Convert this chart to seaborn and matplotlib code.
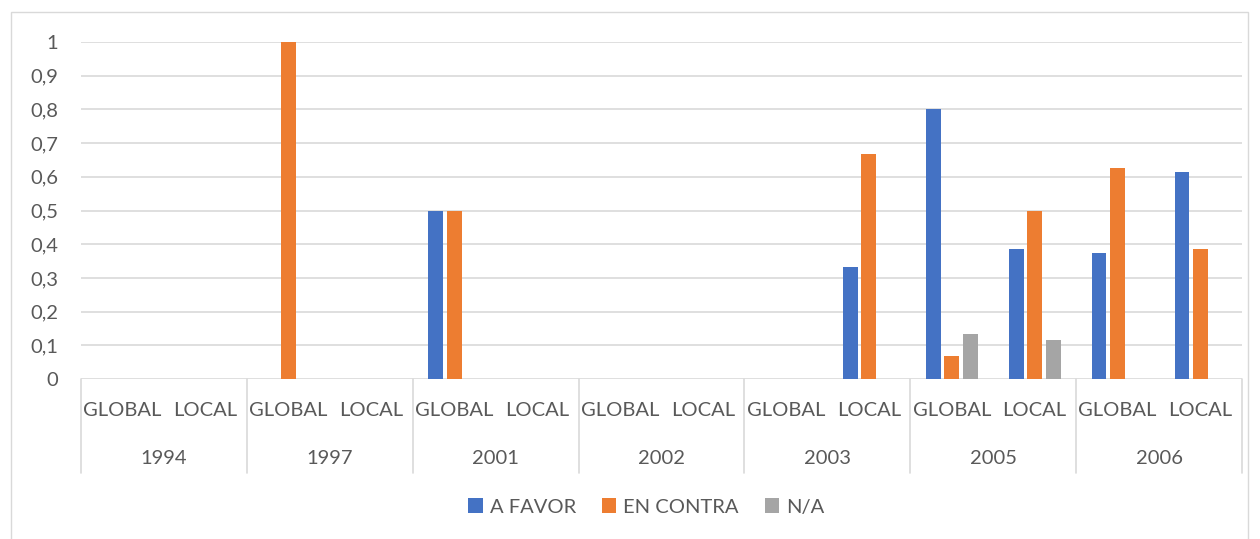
import matplotlib
matplotlib.use("Agg")
import matplotlib.pyplot as plt
from matplotlib.patches import Patch, Rectangle
from matplotlib.transforms import blended_transform_factory
import seaborn as sns
import pandas as pd

# Survey results by year and scope
years = ["1994", "1997", "2001", "2002", "2003", "2005", "2006"]
scopes = ["GLOBAL", "LOCAL"]
series = ["A FAVOR", "EN CONTRA", "N/A"]

a_favor   = [0, 0,   0, 0,   0.5, 0,   0, 0,   0, 0.333,   0.8, 0.385,   0.375, 0.615]
en_contra = [0, 0,   1, 0,   0.5, 0,   0, 0,   0, 0.667,   0.067, 0.5,   0.625, 0.385]
n_a       = [0, 0,   0, 0,   0,   0,   0, 0,   0, 0,       0.133, 0.115, 0,     0]

y_ticks = [0, 0.1, 0.2, 0.3, 0.4, 0.5, 0.6, 0.7, 0.8, 0.9, 1]
y_labels = ["0", "0,1", "0,2", "0,3", "0,4", "0,5", "0,6", "0,7", "0,8", "0,9", "1"]

colors = ["#4472C4", "#ED7D31", "#A5A5A5"]
text_color = "#595959"
grid_color = "#D9D9D9"

cats = [f"{y} {s}" for y in years for s in scopes]
rows = []
for name, vals in zip(series, [a_favor, en_contra, n_a]):
    for c, v in zip(cats, vals):
        rows.append({"cat": c, "serie": name, "valor": v})
df = pd.DataFrame(rows)

sns.set_theme(style="white")
plt.rcParams["font.family"] = ["Lato", "DejaVu Sans"]

W, H = 1260, 539
fig = plt.figure(figsize=(W / 100, H / 100), dpi=100)

# outer chart frame
fig.patches.append(Rectangle((11 / W, 0 - 0.02), (1248 - 11) / W, 1 - 12 / H + 0.02,
                             transform=fig.transFigure, fill=False,
                             edgecolor=grid_color, linewidth=1.0))

left, right, top, bottom = 81, 1242, 42, 379
ax = fig.add_axes([left / W, 1 - bottom / H, (right - left) / W, (bottom - top) / H])

sns.barplot(data=df, x="cat", y="valor", hue="serie", order=cats,
            hue_order=series, palette=colors, saturation=1, width=0.67, gap=0.2,
            linewidth=0, legend=False, ax=ax, zorder=3)

ax.set_xlim(-0.5, len(cats) - 0.5)
ax.set_ylim(0, 1)
ax.set_yticks(y_ticks)
ax.set_yticklabels(y_labels)
ax.tick_params(axis="y", length=0, pad=16.5, labelsize=14.5, labelcolor=text_color)
ax.set_xticks([])
ax.set_xlabel("")
ax.set_ylabel("")
for s in ax.spines.values():
    s.set_visible(False)
for t in y_ticks:
    ax.axhline(t, color=grid_color, linewidth=1.2, zorder=1)

axh = bottom - top
trans = blended_transform_factory(ax.transData, ax.transAxes)
y_scope = -(410 - bottom) / axh
y_year = -(458 - bottom) / axh
y_sep = -(473 - bottom) / axh

for i, c in enumerate(cats):
    ax.text(i, y_scope, c.split(" ")[1], transform=trans, ha="center", va="center",
            fontsize=14.5, color=text_color, clip_on=False)
for j, y in enumerate(years):
    ax.text(2 * j + 0.5, y_year, y, transform=trans, ha="center", va="center",
            fontsize=14.5, color=text_color, clip_on=False)
for k in range(len(years) + 1):
    ax.plot([2 * k - 0.5, 2 * k - 0.5], [0, y_sep], transform=trans,
            color=grid_color, linewidth=1.2, clip_on=False)

handles = [Patch(facecolor=c, edgecolor="none", label=n) for c, n in zip(colors, series)]
leg = fig.legend(handles=handles, loc="center", bbox_to_anchor=(0.513, 1 - 507 / H),
                 ncol=3, frameon=False, fontsize=14.5, handlelength=0.7,
                 handleheight=0.7, handletextpad=0.35, columnspacing=1.3)
for t in leg.get_texts():
    t.set_color(text_color)

fig.savefig("out.png", dpi=100)
